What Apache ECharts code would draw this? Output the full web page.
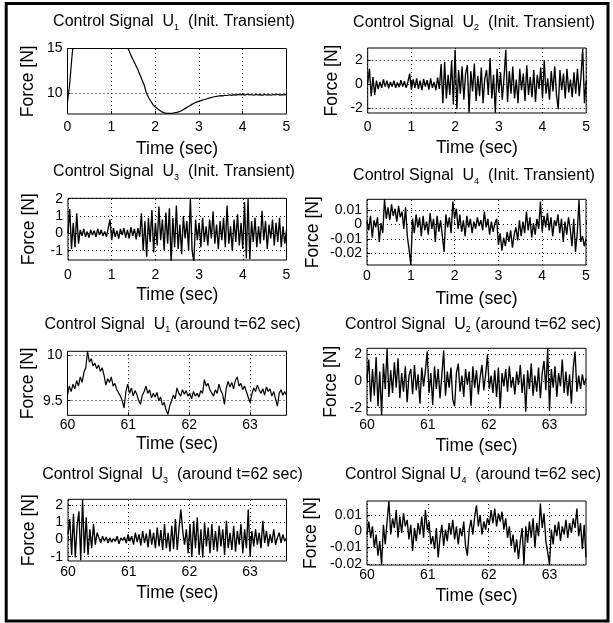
<!DOCTYPE html>
<html>
<head>
<meta charset="utf-8">
<script src="https://cdn.jsdelivr.net/npm/echarts@6/dist/echarts.min.js"></script>
<style>
  html, body { margin: 0; padding: 0; background: #fff; }
  #chart { width: 613px; height: 623px; }
</style>
</head>
<body>
<div id="chart"></div>
<script>
// ---- sampling of the recorded signals ----
const u1InitStart = 0, u1InitStep = 0.05;   // U1 start-up record
const initStart = 0, initStep = 0.04;       // U2..U4 start-up records
const lateStart = 60, lateStep = 0.03;      // records around t = 62 s

// ---- control signal U1, initial transient [N] ----
const u1Init = [
  9.0, 11.0, 14.0, 16.5, 18.5, 20.2, 21.6, 22.7, 23.5, 24.0,
  24.3, 24.4, 24.3, 24.0, 23.6, 23.0, 22.4, 21.7, 21.0, 20.3,
  19.6, 18.9, 18.2, 17.6, 17.0, 16.4, 15.8, 15.3, 14.8, 14.2,
  13.7, 13.2, 12.7, 12.1, 11.5, 10.9, 10.0, 9.5, 9.1, 8.7,
  8.45, 8.25, 8.05, 7.9, 7.8, 7.72, 7.7, 7.72, 7.74, 7.78,
  7.82, 7.9, 8.0, 8.15, 8.3, 8.45, 8.6, 8.75, 8.88, 8.98,
  9.08, 9.15, 9.24, 9.3, 9.38, 9.45, 9.52, 9.58, 9.62, 9.66,
  9.7, 9.68, 9.75, 9.72, 9.8, 9.74, 9.82, 9.76, 9.85, 9.78,
  9.84, 9.76, 9.86, 9.79, 9.83, 9.75, 9.85, 9.78, 9.82, 9.74,
  9.84, 9.77, 9.81, 9.75, 9.83, 9.78, 9.86, 9.76, 9.82, 9.79,
  9.84
];

// ---- control signal U2, initial transient [N] ----
const u2Init = [
  0.1, 1.3, -1.0, 0.6, -0.9, 0.3, -0.4, 0.2, -0.3, 0.4,
  -0.2, 0.3, -0.35, 0.2, -0.2, 0.3, -0.3, 0.15, -0.25, 0.35,
  -0.2, 0.25, -0.3, 0.2, 0.9, -0.45, 0.4, -0.3, 0.5, -0.4,
  0.3, -0.5, 0.45, -0.2, 0.35, -0.45, 0.5, -0.3, 0.2, -0.5,
  0.55, -0.4, 1.7, -1.6, 1.9, -1.2, 0.8, -0.9, 2.0, -1.7,
  2.9, -2.1, 1.2, -0.8, 1.5, -1.3, 0.9, 1.6, -2.4, 1.1,
  -0.6, 1.75, -1.4, 0.7, -1.0, 1.4, -1.6, 0.5, 1.2, -0.9,
  2.2, -1.2, 0.8, -2.4, 1.3, -0.7, 1.0, -1.3, 0.6, 2.9,
  -1.5, 1.1, -0.8, 1.5, -1.2, 0.4, -1.6, 1.3, -0.5, 0.9,
  -1.4, 1.6, -0.9, 0.6, -1.1, 1.2, -1.5, 0.8, -0.4, 1.4,
  -1.2, 2.0, -0.8, 0.5, -1.3, 1.1, -0.6, 1.5, -0.9, -2.1,
  1.2, -0.5, 0.9, -1.2, 1.3, -0.7, 0.4, -1.1, 1.0, -0.8,
  1.3, -1.0, 0.6, 3.0, -1.6, 0.3
];

// ---- control signal U3, initial transient [N] ----
const u3Init = [
  0.0, 1.4, -0.9, 0.6, -0.8, 1.15, -0.6, 0.2, -0.15, 0.25,
  -0.2, 0.1, -0.25, 0.2, -0.1, 0.15, -0.2, 0.25, -0.1, 0.2,
  -0.15, 0.1, -0.2, 0.3, 0.8, -0.4, 0.3, -0.2, 0.15, -0.3,
  0.25, -0.1, 0.3, -0.25, 0.2, -0.3, 0.35, -0.15, 0.25, -0.35,
  0.3, -0.2, 1.15, -1.0, 0.7, -1.35, 0.9, -0.5, 1.35, -1.1,
  0.6, -0.7, 1.55, -0.4, 0.8, -1.0, 1.2, -0.6, 1.45, -1.7,
  0.9, -0.8, 1.6, -0.9, 0.5, -1.2, 1.0, -0.3, 0.7, -1.0,
  2.0, -1.0, -1.65, 0.8, -0.4, 0.6, -0.8, 0.9, -0.5, 0.4,
  -0.7, 0.8, -0.3, 1.25, -0.6, 0.5, -0.9, 0.7, -0.4, 0.9,
  -0.8, 1.6, -0.6, 0.4, -1.0, 0.8, -0.5, 1.1, -0.7, 0.6,
  -0.9, 1.8, -1.45, 2.0, -1.5, 0.7, -0.5, 0.9, -0.8, 0.4,
  -0.6, 1.3, -0.4, 0.7, -0.9, 0.5, -0.3, 0.8, -0.7, 0.6,
  -0.5, 0.9, -0.8, 0.4, -0.6, 0.2
];

// ---- control signal U4, initial transient [N] ----
const u4Init = [
  0.002, -0.004, 0.006, -0.009, 0.003, -0.002, 0.005, -0.012, 0.001, -0.006,
  0.0175, 0.004, 0.012, 0.003, 0.014, 0.006, 0.011, 0.002, 0.013, 0.005,
  0.009, -0.003, 0.012, -0.008, -0.017, -0.028, 0.004, -0.006, 0.007, -0.002,
  0.005, -0.008, 0.006, -0.004, 0.002, -0.007, 0.008, -0.003, 0.004, -0.012,
  0.006, -0.005, 0.003, -0.008, -0.019, 0.007, -0.002, 0.005, -0.006, 0.016,
  0.004, 0.011, -0.003, 0.007, -0.005, 0.003, -0.008, 0.006, -0.002, 0.004,
  -0.006, 0.002, -0.003, 0.005, -0.001, 0.003, -0.004, 0.009, -0.002, 0.004,
  -0.007, 0.002, -0.005, 0.001, 0.004, -0.014, -0.006, -0.018, -0.009, -0.015,
  -0.005, -0.012, -0.004, -0.016, -0.007, -0.002, -0.011, 0.003, -0.008, 0.002,
  -0.006, 0.009, -0.004, 0.005, -0.009, 0.001, -0.007, 0.004, -0.003, 0.016,
  -0.005, 0.006, -0.002, 0.008, -0.004, 0.005, -0.008, 0.003, -0.001, 0.007,
  -0.006, 0.004, -0.012, 0.002, -0.007, 0.005, -0.003, -0.015, 0.004, -0.019,
  -0.006, 0.017, -0.012, -0.008, -0.015, -0.010
];

// ---- control signal U1 around t = 62 s [N] ----
const u1Late = [
  9.56, 9.66, 9.60, 9.68, 9.63, 9.72, 9.66, 9.76, 9.70, 9.81,
  9.86, 10.04, 9.92, 9.96, 9.88, 9.91, 9.85, 9.89, 9.82, 9.86,
  9.78, 9.67, 9.74, 9.70, 9.76, 9.66, 9.69, 9.62, 9.60, 9.55,
  9.50, 9.42, 9.60, 9.68, 9.58, 9.64, 9.55, 9.61, 9.57, 9.50,
  9.46, 9.56, 9.60, 9.66, 9.58, 9.62, 9.53, 9.58, 9.54, 9.59,
  9.50, 9.54, 9.45, 9.48, 9.40, 9.35, 9.44, 9.50, 9.56, 9.52,
  9.64, 9.58, 9.55, 9.62, 9.57, 9.61, 9.55, 9.58, 9.52, 9.60,
  9.55, 9.58, 9.54, 9.61, 9.58, 9.73, 9.66, 9.69, 9.62, 9.60,
  9.55, 9.62, 9.58, 9.68, 9.61, 9.57, 9.46, 9.64, 9.71, 9.65,
  9.70, 9.63, 9.72, 9.76, 9.66, 9.69, 9.62, 9.66, 9.60, 9.58,
  9.48, 9.57, 9.64, 9.60, 9.67, 9.62, 9.58, 9.63, 9.56, 9.65,
  9.60, 9.63, 9.55, 9.60, 9.52, 9.44, 9.58, 9.62, 9.56, 9.60,
  9.56
];

// ---- control signal U2 around t = 62 s [N] ----
const u2Late = [
  0.2, 1.6, -1.55, 0.9, -1.1, 1.8, -1.9, 0.7, -2.55, 1.3,
  -0.6, 2.4, -1.2, 0.8, -0.9, 1.4, -0.5, 1.7, -1.3, 0.6,
  -0.8, 1.1, -1.6, 0.4, 0.9, -1.0, 1.2, -0.7, 0.5, -1.7,
  1.0, -0.4, 0.8, 2.2, -0.9, 0.6, -1.8, 1.1, -0.6, 0.9,
  -1.3, 0.4, 2.3, -1.1, 0.7, -0.5, 1.0, -1.4, -1.9, 0.6,
  1.3, -0.8, 0.4, -1.2, 0.9, -0.3, 0.7, -1.85, 1.1, -0.5,
  0.8, -1.0, 0.3, 1.2, -0.7, 0.5, 1.95, -0.6, 0.4, -0.9,
  0.8, -1.2, 1.0, -2.05, 0.6, -0.4, 0.9, -0.8, 1.1, -0.5,
  0.3, -1.0, 0.7, -0.3, 1.2, -0.9, 0.5, -2.3, 0.8, -0.6,
  1.3, -1.1, 0.4, -0.8, 1.0, -1.3, 0.6, 1.5, -0.7, 2.45,
  -2.2, 0.9, -0.5, 1.1, -1.2, 0.6, -0.4, 1.6, -0.9, 0.7,
  -1.1, 0.5, -1.7, 1.0, 2.2, -0.8, 0.4, -0.6, 0.5, -0.3,
  0.2
];

// ---- control signal U3 around t = 62 s [N] ----
const u3Late = [
  0.3, 1.2, -0.9, 1.5, -1.05, 0.8, 1.65, -1.2, 2.35, -0.8,
  1.3, -0.9, 0.6, -0.5, 0.9, -0.3, 0.4, 0.1, -0.2, 0.2,
  -0.1, 0.15, -0.2, 0.1, -0.15, 0.05, -0.1, 0.2, -0.25, 0.1,
  -0.05, 0.15, -0.2, 0.3, -0.1, 0.2, -0.3, 0.4, -0.15, 0.3,
  -0.35, 0.5, -0.2, 0.35, -0.45, 0.6, -0.3, 0.4, -0.5, 0.7,
  -0.4, 0.55, -0.6, 0.9, -0.5, 0.4, -0.7, 0.8, -0.55, 1.2,
  -0.6, 0.7, 1.75, 0.5, -0.3, 0.6, -0.8, 0.9, -1.0, 1.1,
  -0.5, 1.3, -0.9, 0.6, -1.05, 1.0, -0.4, 0.7, -0.8, 0.9,
  -0.6, 0.5, -0.7, 0.8, -0.4, 0.6, -0.9, 1.1, -0.5, 0.4,
  -0.6, 0.8, -0.7, 0.5, -0.3, 0.9, -0.8, 0.6, -0.5, 1.75,
  -1.0, 0.5, -0.4, 0.6, -0.3, 0.4, -0.5, 1.1, -0.2, 0.5,
  -0.4, 0.3, -0.2, 0.6, -0.3, 0.1, 0.4, -0.2, 0.3, -0.1,
  0.1
];

// ---- control signal U4 around t = 62 s [N] ----
const u4Late = [
  -0.002, 0.006, -0.004, 0.003, -0.010, -0.002, -0.015, -0.006, -0.0205, 0.004,
  -0.008, 0.006, 0.0185, -0.002, 0.008, 0.002, 0.013, -0.004, 0.009, -0.001,
  0.011, 0.003, 0.007, -0.005, 0.004, -0.012, 0.002, -0.006, 0.005, -0.002,
  0.009, -0.004, 0.013, 0.001, 0.006, -0.008, -0.003, -0.011, 0.002, -0.016,
  -0.004, 0.004, -0.009, 0.001, -0.006, 0.005, -0.002, 0.007, -0.005, 0.003,
  -0.008, 0.002, -0.003, 0.006, -0.009, -0.015, 0.001, 0.007, -0.002, 0.009,
  0.016, 0.003, 0.010, -0.002, 0.006, 0.001, 0.008, 0.004, 0.013, 0.005,
  0.014, 0.003, 0.011, 0.006, 0.012, 0.001, 0.008, -0.004, 0.003, -0.009,
  -0.002, -0.013, -0.005, -0.017, -0.006, 0.002, -0.0205, 0.003, -0.007, 0.006,
  -0.004, 0.008, -0.010, 0.005, -0.003, 0.017, 0.002, 0.011, -0.006, -0.013,
  -0.0205, 0.001, -0.008, 0.004, -0.003, 0.006, -0.006, 0.003, -0.002, 0.007,
  -0.004, 0.005, -0.001, 0.008, 0.002, 0.014, -0.003, 0.005, -0.011, 0.004,
  -0.016
];

// ---- tick values ----
const timeTicksInit = [0, 1, 2, 3, 4, 5];
const timeTicksLate = [60, 61, 62, 63];
const forceTicksU1Init = [10, 15];
const forceTicksU1Late = [9.5, 10];
const forceTicksU2 = [-2, 0, 2];
const forceTicksU3 = [-1, 0, 1, 2];
const forceTicksU4 = [-0.02, -0.01, 0, 0.01];

// ---- titles ----
const initTag = '(Init. Transient)';
const lateTag = '(around t=62 sec)';

const FONT = 'Liberation Sans, Arial, Helvetica, sans-serif';

function series(values, t0, dt) {
  return values.map((v, i) => [+(t0 + i * dt).toFixed(4), v]);
}

// panel layout: plot box, title placement, axis ranges, label spacing, trace width
const panels = [
  { values: u1Init, t0: u1InitStart, dt: u1InitStep, lw: 1.2,
    box: [67.5, 48.5, 219, 65.5], title: [174, 14, 'Control Signal  U', '1', '  ' + initTag],
    x: [0, 5, timeTicksInit], y: [7.64, 15, forceTicksU1Init],
    lblGap: 6, xName: 26, yName: 30.5 },
  { values: u2Init, t0: initStart, dt: initStep, lw: 1.35,
    box: [367.7, 48, 218.5, 65], title: [474, 14.5, 'Control Signal  U', '2', '  ' + initTag],
    x: [0, 5, timeTicksInit], y: [-2.42, 3.05, forceTicksU2],
    lblGap: 7, xName: 26, yName: 27 },
  { values: u3Init, t0: initStart, dt: initStep, lw: 1.35,
    box: [68, 198.3, 218.5, 61.7], title: [174, 164, 'Control Signal  U', '3', '  ' + initTag],
    x: [0, 5, timeTicksInit], y: [-1.54, 2.02, forceTicksU3],
    lblGap: 8, xName: 26.5, yName: 29.5 },
  { values: u4Init, t0: initStart, dt: initStep, lw: 1.35,
    box: [367, 199.3, 219, 65.7], title: [474, 168, 'Control Signal  U', '4', '  ' + initTag],
    x: [0, 5, timeTicksInit], y: [-0.028, 0.0175, forceTicksU4],
    lblGap: 4, xName: 25, yName: 45 },
  { values: u1Late, t0: lateStart, dt: lateStep, lw: 1.2,
    box: [67.5, 351.3, 219, 64], title: [172.5, 316.5, 'Control Signal  U', '1', ' ' + lateTag],
    x: [60, 63.6, timeTicksLate], y: [9.34, 10.04, forceTicksU1Late],
    lblGap: 3, xName: 20, yName: 30.5 },
  { values: u2Late, t0: lateStart, dt: lateStep, lw: 1.35,
    box: [367, 348.3, 219, 66.7], title: [473, 316.5, 'Control Signal  U', '2', ' ' + lateTag],
    x: [60, 63.6, timeTicksLate], y: [-2.55, 2.45, forceTicksU2],
    lblGap: 3.5, xName: 22, yName: 26.5 },
  { values: u3Late, t0: lateStart, dt: lateStep, lw: 1.35,
    box: [68, 499.3, 218.5, 61.7], title: [172.5, 467, 'Control Signal  U', '3', '  ' + lateTag],
    x: [60, 63.6, timeTicksLate], y: [-1.25, 2.35, forceTicksU3],
    lblGap: 4, xName: 23, yName: 29.5 },
  { values: u4Late, t0: lateStart, dt: lateStep, lw: 1.35,
    box: [367, 501, 219, 64], title: [473, 467, 'Control Signal U', '4', '  ' + lateTag],
    x: [60, 63.6, timeTicksLate], y: [-0.0207, 0.0186, forceTicksU4],
    lblGap: 3.5, xName: 22.5, yName: 46.5 }
];

const titleRich = {
  m: { fontFamily: FONT, fontSize: 16, fontWeight: 'normal', lineHeight: 18, color: '#000', verticalAlign: 'top' },
  s: { fontFamily: FONT, fontSize: 9, fontWeight: 'normal', lineHeight: 10, color: '#000', verticalAlign: 'bottom', padding: [15, 0, 0, 0] }
};

const dotted = { color: '#000', width: 1, type: [1, 3] };

const option = {
  backgroundColor: '#fff',
  animation: false,
  title: panels.map(p => ({
    left: p.title[0], top: p.title[1], padding: 0,
    textAlign: 'center', textVerticalAlign: 'top',
    text: '{m|' + p.title[2] + '}{s|' + p.title[3] + '}{m|' + p.title[4] + '}',
    textStyle: { fontWeight: 'normal', fontFamily: FONT, color: '#000', rich: titleRich }
  })),
  grid: panels.map(p => ({
    left: p.box[0], top: p.box[1], width: p.box[2], height: p.box[3],
    show: true, borderColor: '#000', borderWidth: 1, backgroundColor: '#fff',
    containLabel: false
  })),
  xAxis: panels.map((p, i) => ({
    gridIndex: i, type: 'value', min: p.x[0], max: p.x[1],
    axisLine: { show: false },
    axisTick: { show: true, inside: true, length: 3, customValues: p.x[2], lineStyle: { color: '#000' } },
    axisLabel: { customValues: p.x[2], margin: p.lblGap, fontSize: 14, color: '#000', fontFamily: FONT },
    splitLine: { show: false },
    name: 'Time (sec)', nameLocation: 'middle', nameGap: p.xName,
    nameTextStyle: { fontSize: 17.5, color: '#000', fontFamily: FONT }
  })),
  yAxis: panels.map((p, i) => ({
    gridIndex: i, type: 'value', min: p.y[0], max: p.y[1],
    axisLine: { show: false },
    axisTick: { show: true, inside: true, length: 3, customValues: p.y[2], lineStyle: { color: '#000' } },
    axisLabel: { customValues: p.y[2], margin: 5, fontSize: 14, color: '#000', fontFamily: FONT },
    splitLine: { show: false },
    name: 'Force [N]', nameLocation: 'middle', nameGap: p.yName,
    nameTextStyle: { fontSize: 17.5, color: '#000', fontFamily: FONT }
  })),
  series: panels.map((p, i) => ({
    type: 'line', xAxisIndex: i, yAxisIndex: i,
    data: series(p.values, p.t0, p.dt),
    showSymbol: false, symbol: 'none', clip: true,
    lineStyle: { color: '#000', width: p.lw },
    emphasis: { disabled: true },
    markLine: {
      silent: true, symbol: ['none', 'none'], label: { show: false },
      lineStyle: dotted, animation: false,
      emphasis: { disabled: true },
      data: p.x[2].map(v => ({ xAxis: v })).concat(p.y[2].map(v => ({ yAxis: v })))
    }
  })),
  graphic: [{
    type: 'rect', silent: true, z: 100,
    shape: { x: 6.2, y: 3.4, width: 601.8, height: 617.6 },
    style: { fill: 'none', stroke: '#000', lineWidth: 3 }
  }]
};

const chart = echarts.init(document.getElementById('chart'), null, { renderer: 'canvas' });
chart.setOption(option);
</script>
</body>
</html>
